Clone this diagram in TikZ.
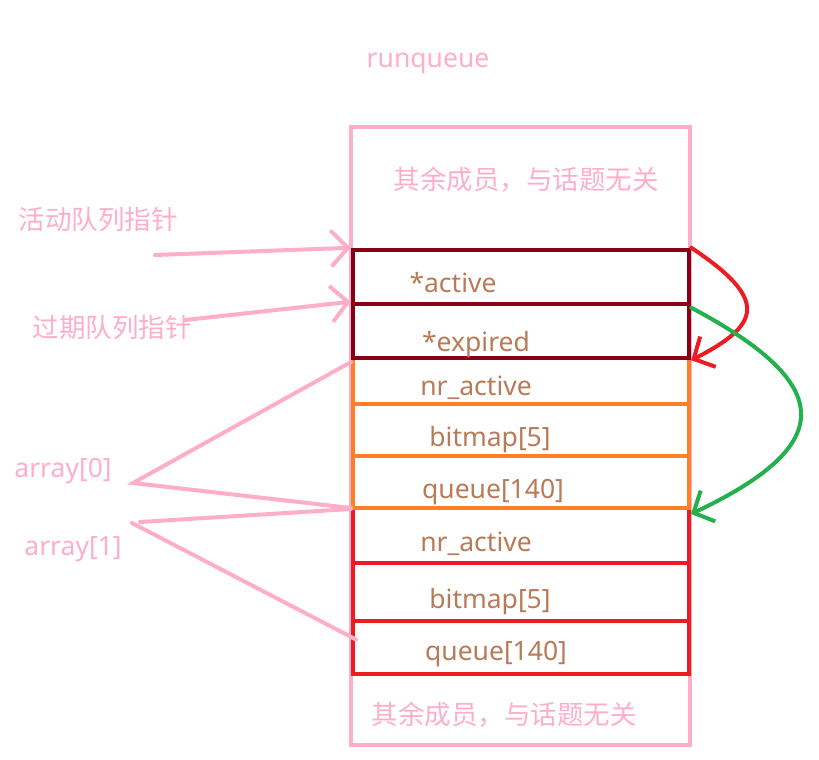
\documentclass[tikz,border=0pt]{standalone}
\usepackage{fontspec}
\setmainfont{Noto Sans}
\newfontfamily\cjk{Noto Sans CJK SC}
\usepackage{tikz}
\usetikzlibrary{arrows.meta,positioning,calc}

\definecolor{rqpink}{RGB}{255,174,201}
\definecolor{ptrred}{RGB}{136,0,21}
\definecolor{arrorange}{RGB}{255,127,39}
\definecolor{arrred}{RGB}{237,28,36}
\definecolor{swapgreen}{RGB}{34,177,76}
\definecolor{fieldbrown}{RGB}{185,122,87}

\begin{document}
\begin{tikzpicture}[x=1pt,y=-1pt,
  field/.style={draw,minimum width=336pt,inner sep=0pt,line width=4pt},
  txt/.style={text=fieldbrown,font=\fontsize{26.5}{30}\selectfont},
  note/.style={text=rqpink,font=\fontsize{26.5}{30}\selectfont},
  link/.style={draw=rqpink,line width=4pt,line cap=round},
  ptr/.style={link,-{Straight Barb[length=17pt,width=36pt]}}]
\useasboundingbox (0,0) rectangle (819,760);
% runqueue
\node[note] (title) at (428,63) {runqueue};
\node[draw=rqpink,line width=3.5pt,minimum width=339pt,minimum height=618pt] (rq) at (520.5,436) {};
\node[note,font=\cjk\fontsize{26.5}{30}\selectfont] (resttop) at (526,180) {其余成员，与话题无关};
\node[note,font=\cjk\fontsize{26.5}{30}\selectfont] (restbot) at (504,715) {其余成员，与话题无关};
% array[1]
\node[field,draw=arrred,minimum height=55pt] (bnr) at (521,535.5) {};
\node[field,draw=arrred,minimum height=58pt] (bbit) at (521,592) {};
\node[field,draw=arrred,minimum height=53pt] (bque) at (521,647.5) {};
% array[0]
\node[field,draw=arrorange,minimum height=46pt] (anr) at (521,381) {};
\node[field,draw=arrorange,minimum height=52pt] (abit) at (521,430) {};
\node[field,draw=arrorange,minimum height=52pt] (aque) at (521,482) {};
% pointers
\node[field,draw=ptrred,line width=4.5pt,minimum height=54pt] (act) at (521,277) {};
\node[field,draw=ptrred,line width=4.5pt,minimum height=54pt] (exp) at (521,331) {};
% field texts
\node[txt] (tact) at (453,283) {*active};
\node[txt] (texp) at (476,345) {*expired};
\node[txt] (tanr) at (476,388) {nr\_active};
\node[txt] (tabit) at (490,440) {bitmap[5]};
\node[txt] (taque) at (493,492) {queue[140]};
\node[txt] (tbnr) at (476,544) {nr\_active};
\node[txt] (tbbit) at (490,602) {bitmap[5]};
\node[txt] (tbque) at (496,654) {queue[140]};
% left side
\node[note,font=\cjk\fontsize{26.5}{30}\selectfont] (lact) at (98,219) {活动队列指针};
\node[note,font=\cjk\fontsize{26.5}{30}\selectfont] (lexp) at (112,327) {过期队列指针};
\node[note] (la0) at (63,471) {array[0]};
\node[note] (la1) at (73,549) {array[1]};
\coordinate (pact) at (155,255);
\coordinate (pexp) at (185,320);
\coordinate (tip0) at (133,483);
\coordinate (tip1a) at (140,522);
\coordinate (tip1b) at (132,523);
\draw[ptr] (pact) -- (act.north west);
\draw[ptr] (pexp) -- (exp.north west);
\draw[link] ([yshift=-6pt]anr.north west) -- (tip0) -- ([yshift=2pt]aque.south west);
\draw[link] (tip1a) -- ([yshift=-3pt]bnr.north west);
\draw[link] (tip1b) -- ([xshift=5pt,yshift=8pt]bque.west);
% swap arrows
\draw[arrred,line width=4pt,line cap=round,-{Straight Barb[length=16pt,width=34pt]}]
  (act.north east) .. controls (770,300) and (760,325) .. (exp.south east);
\draw[swapgreen,line width=4pt,line cap=round,-{Straight Barb[length=16pt,width=34pt]}]
  ([yshift=-6pt]exp.north east) .. controls (837,385) and (837,445) .. ([yshift=-4pt]aque.south east);
\end{tikzpicture}
\end{document}
